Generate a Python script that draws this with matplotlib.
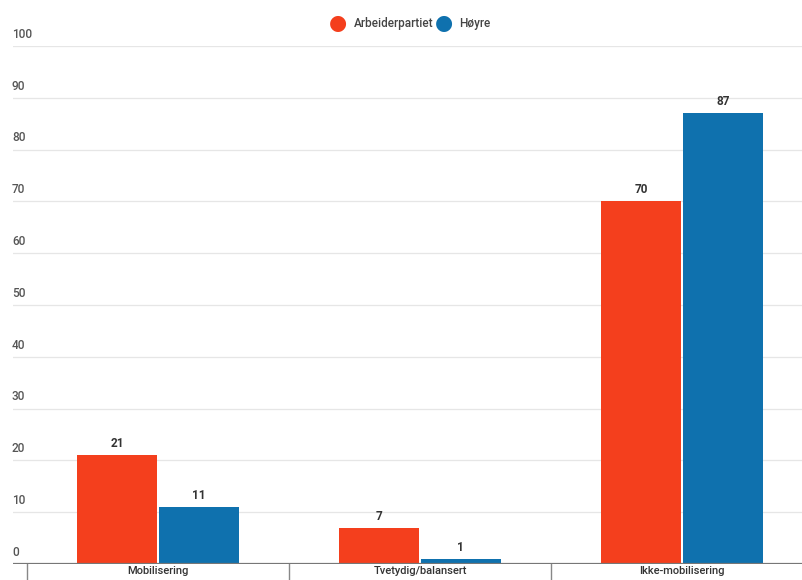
import matplotlib
matplotlib.use("Agg")
import matplotlib.pyplot as plt
from matplotlib.transforms import blended_transform_factory
from matplotlib.lines import Line2D

plt.rcParams['font.family'] = ['Roboto', 'DejaVu Sans']

categories = ["Mobilisering", "Tvetydig/balansert", "Ikke-mobilisering"]
series_names = ["Arbeiderpartiet", "Høyre"]
ap_values = [21, 7, 70]
h_values = [11, 1, 87]
y_ticks = [0, 10, 20, 30, 40, 50, 60, 70, 80, 90, 100]
colors = ["#f43f1d", "#0f71ae"]

W, H = 803, 580
fig = plt.figure(figsize=(W/100, H/100), dpi=100)
left_px, right_px, top_px, bot_px = 13, 803, 46, 564
ax = fig.add_axes([left_px/W, 1-bot_px/H, (right_px-left_px)/W, (bot_px-top_px)/H])

cat_w = 262.0
x0 = -0.5 - (27 - left_px)/cat_w
x1 = -0.5 + (right_px - 27)/cat_w
ax.set_xlim(x0, x1)
ax.set_ylim(0, 100)

bw = 0.305
off = 0.156
xs = list(range(len(categories)))
for vals, col, sgn in [(ap_values, colors[0], -1), (h_values, colors[1], 1)]:
    for x, v in zip(xs, vals):
        ax.bar(x + sgn*off, v, width=bw, color=col, zorder=3)
        ax.text(x + sgn*off, v + 1.0, str(v), ha='center', va='bottom',
                fontsize=8.5, fontweight='bold', color='#333333', zorder=4)

for s in ax.spines.values():
    s.set_visible(False)
ax.set_xticks([])
ax.set_yticks([])

trans = blended_transform_factory(fig.transFigure, ax.transData)
for t in y_ticks:
    if t == 0:
        ax.axhline(0, color='#777777', lw=1.6, zorder=5)
    else:
        ax.axhline(t, color='#e6e6e6', lw=0.9, zorder=1)
    ax.text(12/W, t + 1.0, str(t), transform=trans, ha='left', va='bottom',
            fontsize=8.5, fontweight='medium', color='#555555')

# category separators
for i in range(len(categories)):
    xb = i - 0.5
    ax.add_line(Line2D([xb, xb], [0, -4], color='#888888', lw=1.0, clip_on=False))
    ax.text(i, -0.45, categories[i], ha='center', va='top', fontsize=8,
            fontweight='medium', color='#333333', clip_on=False)

# legend
fig.text(338/W, 1-24/H, "●", color=colors[0], fontsize=15, ha='center', va='center')
fig.text(354/W, 1-24/H, series_names[0], color='#444444', fontsize=8.5,
         fontweight='medium', ha='left', va='center')
fig.text(444/W, 1-24/H, "●", color=colors[1], fontsize=15, ha='center', va='center')
fig.text(459/W, 1-24/H, series_names[1], color='#444444', fontsize=8.5,
         fontweight='medium', ha='left', va='center')

fig.savefig("out.png", dpi=100)
